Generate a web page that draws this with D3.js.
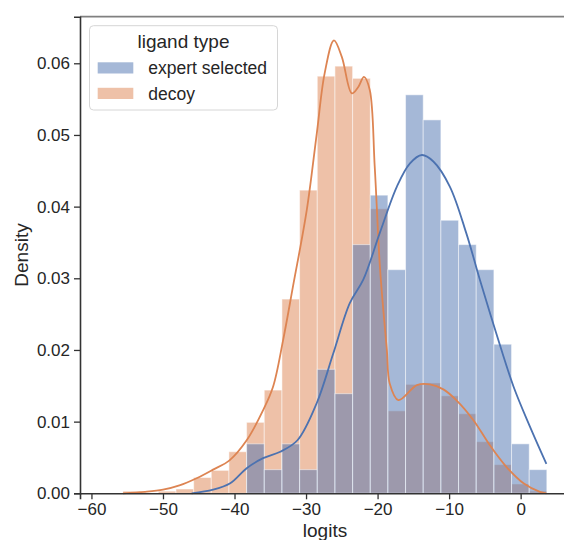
<!DOCTYPE html>
<html>
<head>
<meta charset="utf-8">
<script src="https://cdn.jsdelivr.net/npm/d3@7"></script>
<style>
  html, body { margin: 0; padding: 0; background: #fff; }
  svg { display: block; font-family: "Liberation Sans", Arial, sans-serif; }
</style>
</head>
<body>
<script>
// histogram bin edges (shared by both hue levels)
const binEdges = [-55.59, -53.12, -50.65, -48.18, -45.71, -43.25, -40.78, -38.31,
  -35.84, -33.37, -30.90, -28.43, -25.96, -23.49, -21.02, -18.56, -16.09,
  -13.62, -11.15, -8.68, -6.21, -3.74, -1.27, 1.20, 3.66];

// density per bin
const expertDensity = [0, 0, 0, 0, 0, 0, 0, 0.0069, 0.0033, 0.0069, 0.0033,
  0.0173, 0.0139, 0.0347, 0.0416, 0.0312, 0.0556, 0.0521, 0.0381, 0.0347,
  0.0312, 0.0208, 0.0069, 0.0033];
const decoyDensity = [0.0003, 0, 0.0003, 0.0006, 0.0022, 0.0032, 0.0058, 0.0099,
  0.0144, 0.0271, 0.0423, 0.0582, 0.0596, 0.0579, 0.0397, 0.0115, 0.0152,
  0.0154, 0.0136, 0.0111, 0.0072, 0.0040, 0.0013, 0.0003];

// kde curves: [logit, density]
const expertKde = [[-46.0, 0], [-43.0, 0.0005], [-40.6, 0.0014], [-38.3, 0.0035],
  [-36.0, 0.0049], [-33.6, 0.0058], [-31.2, 0.0074], [-28.5, 0.0126],
  [-26.2, 0.0195], [-23.9, 0.0265], [-22.0, 0.0298], [-19.7, 0.0363],
  [-17.3, 0.0428], [-15.5, 0.0460], [-13.8, 0.0472], [-12.2, 0.0463],
  [-9.9, 0.0428], [-7.6, 0.0363], [-5.7, 0.0298], [-3.4, 0.0223],
  [-1.0, 0.0149], [1.3, 0.0093], [3.6, 0.0041]];
const decoyKde = [[-55.6, 0], [-52.5, 0.0002], [-50.0, 0.0005], [-47.7, 0.0011],
  [-45.3, 0.0021], [-43.0, 0.0033], [-40.7, 0.0046], [-38.3, 0.0074],
  [-36.0, 0.0116], [-34.6, 0.0149], [-33.2, 0.0214], [-31.8, 0.0290],
  [-29.9, 0.0395], [-28.5, 0.0502], [-27.4, 0.0586], [-26.1, 0.0632],
  [-25.0, 0.0609], [-23.6, 0.0558], [-22.7, 0.0567], [-21.9, 0.0581],
  [-21.1, 0.0563], [-20.4, 0.0456], [-19.7, 0.0320], [-19.2, 0.0256],
  [-18.7, 0.0200], [-18.3, 0.0153], [-17.1, 0.0130], [-14.5, 0.0151],
  [-12.7, 0.0152], [-10.8, 0.0145], [-9.0, 0.0130], [-6.6, 0.0102],
  [-4.3, 0.0067], [-2.0, 0.0037], [0.4, 0.0014], [2.7, 0.0002], [3.6, 0]];

const xTicks = [-60, -50, -40, -30, -20, -10, 0];
const yTicks = [0, 0.01, 0.02, 0.03, 0.04, 0.05, 0.06];
const hueLabels = ["expert selected", "decoy"];
const hueColors = ["#4c72b0", "#dd8452"];

const width = 564, height = 540;
const plotLeft = 80, plotRight = 570, plotTop = 16.7, plotBottom = 493.3;

const svg = d3.select("body").append("svg")
  .attr("width", width)
  .attr("height", height);

const x = d3.scaleLinear().domain([-61.6, 6.9]).range([plotLeft, plotRight]);
const y = d3.scaleLinear().domain([0, 0.0665]).range([plotBottom, plotTop]);

// bars: decoy first, expert on top (seaborn draws the first hue last)
const layers = [
  { values: decoyDensity, color: hueColors[1] },
  { values: expertDensity, color: hueColors[0] }
];
layers.forEach(layer => {
  svg.append("g")
    .selectAll("rect")
    .data(layer.values.map((v, i) => ({ v, x0: binEdges[i], x1: binEdges[i + 1] })))
    .join("rect")
    .filter(d => d.v > 0)
    .attr("x", d => x(d.x0))
    .attr("y", d => y(d.v))
    .attr("width", d => x(d.x1) - x(d.x0))
    .attr("height", d => y(0) - y(d.v))
    .attr("fill", layer.color)
    .attr("fill-opacity", 0.5)
    .attr("stroke", "#fff")
    .attr("stroke-opacity", 0.5)
    .attr("stroke-width", 1);
});

// kde lines
const line = d3.line()
  .x(d => x(d[0]))
  .y(d => y(d[1]))
  .curve(d3.curveCatmullRom.alpha(0.5));

[[decoyKde, hueColors[1]], [expertKde, hueColors[0]]].forEach(([pts, c]) => {
  svg.append("path")
    .datum(pts)
    .attr("fill", "none")
    .attr("stroke", c)
    .attr("stroke-width", 1.8)
    .attr("d", line);
});

// top spine
svg.append("line")
  .attr("x1", plotLeft).attr("x2", width).attr("y1", plotTop).attr("y2", plotTop)
  .attr("stroke", "#808080").attr("stroke-width", 1.8);

// axes
const xAxis = svg.append("g")
  .attr("transform", `translate(0,${plotBottom})`)
  .call(d3.axisBottom(x).tickValues(xTicks).tickSize(6).tickPadding(4)
    .tickFormat(d => d3.format("d")(d).replace("-", "\u2212")));
const yAxis = svg.append("g")
  .attr("transform", `translate(${plotLeft},0)`)
  .call(d3.axisLeft(y).tickValues(yTicks).tickSize(6).tickPadding(4)
    .tickFormat(d3.format(".2f")));

[xAxis, yAxis].forEach(g => {
  g.select(".domain").attr("stroke", "#333").attr("stroke-width", 1.6);
  g.selectAll(".tick line").attr("stroke", "#333").attr("stroke-width", 1.3);
  g.selectAll(".tick text")
    .attr("fill", "#262626")
    .attr("font-size", 17)
    .attr("font-family", "Liberation Sans, Arial, sans-serif");
});

// axis labels
svg.append("text")
  .attr("x", (plotLeft + plotRight) / 2)
  .attr("y", 537)
  .attr("text-anchor", "middle")
  .attr("font-size", 19)
  .attr("fill", "#262626")
  .text("logits");

svg.append("text")
  .attr("transform", `translate(28,${(plotTop + plotBottom) / 2}) rotate(-90)`)
  .attr("text-anchor", "middle")
  .attr("font-size", 19)
  .attr("fill", "#262626")
  .text("Density");

// legend
const lg = svg.append("g");
lg.append("rect")
  .attr("x", 89.5).attr("y", 25.7)
  .attr("width", 188).attr("height", 84.3)
  .attr("rx", 4)
  .attr("fill", "#fff").attr("fill-opacity", 0.8)
  .attr("stroke", "#d6d6d6").attr("stroke-width", 1);
lg.append("text")
  .attr("x", 183.5).attr("y", 48.3)
  .attr("text-anchor", "middle")
  .attr("font-size", 19)
  .attr("fill", "#262626")
  .text("ligand type");
hueLabels.forEach((lab, i) => {
  const yy = 62.3 + i * 25.5;
  lg.append("rect")
    .attr("x", 97.7).attr("y", yy)
    .attr("width", 35.6).attr("height", 11.2)
    .attr("fill", hueColors[i]).attr("fill-opacity", 0.5);
  lg.append("text")
    .attr("x", 148.3).attr("y", yy + 12)
    .attr("font-size", 17.5)
    .attr("fill", "#262626")
    .text(lab);
});
</script>
</body>
</html>
